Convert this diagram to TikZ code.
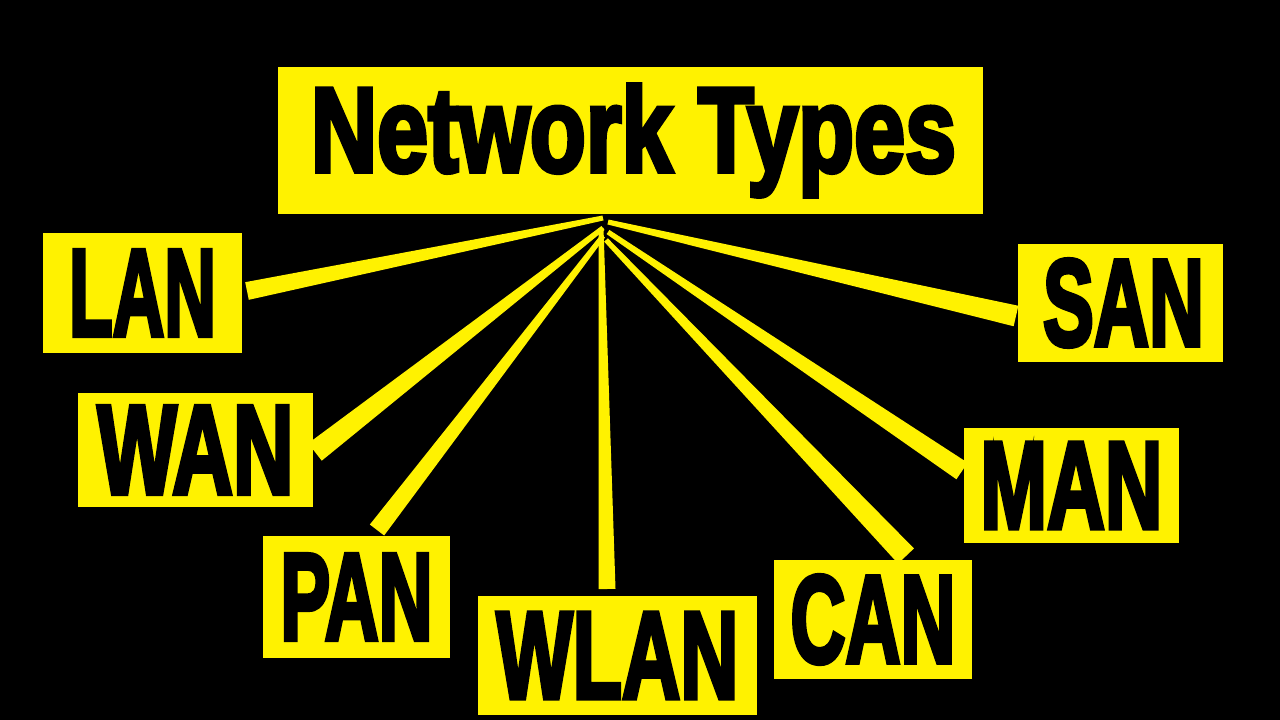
\documentclass[tikz,border=0pt]{standalone}
\usepackage{fontspec}
\usepackage{graphicx}
\usetikzlibrary{calc}
\newfontfamily\impactf[FakeBold=4]{Liberation Sans}
\definecolor{yy}{RGB}{255,242,0}
\newcommand\fitT[3]{\resizebox{#1pt}{#2pt}{\impactf\bfseries #3}}
\newcommand\wedgeline[4]{%
  \fill[yy] ($(#1)!#3!90:(#2)$) -- ($(#1)!#3!-90:(#2)$) --
            ($(#2)!#4!90:(#1)$) -- ($(#2)!#4!-90:(#1)$) -- cycle;}
\tikzset{
  ybox/.style={fill=yy, text=black, inner sep=0pt, outer sep=0pt, draw=none}
}
\begin{document}
\begin{tikzpicture}[x=1pt,y=-1pt]
\fill[black] (0,0) rectangle (1280,720);
\useasboundingbox (0,0) rectangle (1280,720);
% boxes
\node[ybox, minimum width=705pt, minimum height=147pt] (nt) at (630.5,140.5) {\hspace{6pt}\fitT{645}{87}{Network Types}};
\node[ybox, minimum width=199pt, minimum height=120pt] (lan) at (142.5,293) {\fitT{147}{85}{LAN}\hspace{8pt}};
\node[ybox, minimum width=235pt, minimum height=114pt] (wan) at (195.5,450) {\fitT{196}{87}{WAN}};
\node[ybox, minimum width=187pt, minimum height=122pt] (pan) at (356.5,597) {\fitT{152}{85}{PAN}};
\node[ybox, minimum width=279pt, minimum height=119pt] (wlan) at (617.5,655.5) {\fitT{242}{85}{WLAN}};
\node[ybox, minimum width=198pt, minimum height=119pt] (can) at (873,619.5) {\fitT{165}{87}{CAN}};
\node[ybox, minimum width=215pt, minimum height=115pt] (man) at (1071.5,485.5) {\fitT{182}{85}{MAN}};
\node[ybox, minimum width=205pt, minimum height=118pt] (san) at (1120.5,303) {\hspace{6pt}\fitT{161}{86}{SAN}};
% apex points
\coordinate (aLAN) at (603,218);
\coordinate (aWAN) at (603,228);
\coordinate (aPAN) at (603,236);
\coordinate (aWLAN) at (601,228);
\coordinate (aCAN) at (606,240);
\coordinate (aMAN) at (608,232);
\coordinate (aSAN) at (608,222);
% end points
\coordinate (eLAN) at ($(lan.east)+(5,-2)$);
\coordinate (eWAN) at ($(wan.east)+(2,2)$);
\coordinate (ePAN) at ($(pan.north)+(20.5,-6)$);
\coordinate (eWLAN) at ($(wlan.north)+(-10.5,-7)$);
\coordinate (eCAN) at ($(can.north)+(33,-4)$);
\coordinate (eMAN) at ($(man.west)+(-2,-14.5)$);
\coordinate (eSAN) at ($(san.west)+(-2,13)$);
% connectors
\wedgeline{aLAN}{eLAN}{2.5pt}{9pt}
\wedgeline{aWAN}{eWAN}{2.5pt}{11pt}
\wedgeline{aPAN}{ePAN}{2.5pt}{9pt}
\wedgeline{aWLAN}{eWLAN}{2.5pt}{8.5pt}
\wedgeline{aCAN}{eCAN}{2.5pt}{11pt}
\wedgeline{aMAN}{eMAN}{2.5pt}{10pt}
\wedgeline{aSAN}{eSAN}{2.5pt}{10.5pt}
\end{tikzpicture}
\end{document}
